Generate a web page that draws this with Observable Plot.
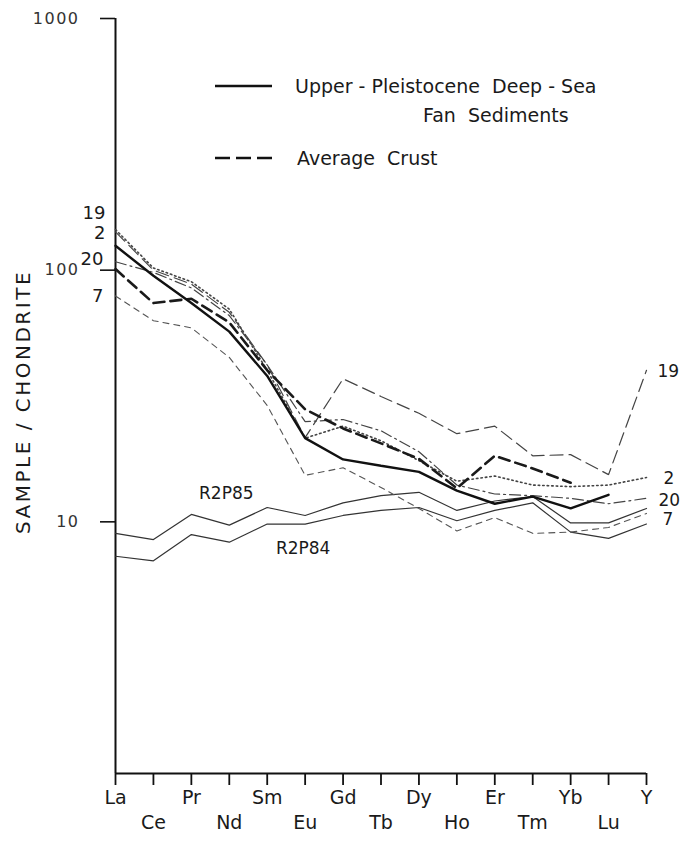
<!DOCTYPE html>
<html>
<head>
<meta charset="utf-8">
<script src="https://cdn.jsdelivr.net/npm/d3@7"></script>
<script src="https://cdn.jsdelivr.net/npm/@observablehq/plot@0.6"></script>
<style>
  html, body { margin: 0; padding: 0; background: #fff; }
  #wrap { position: relative; width: 685px; height: 843px; font-family: "DejaVu Sans", sans-serif; }
  #legend { position: absolute; left: 0; top: 0; pointer-events: none; }
  g[aria-label="y-axis tick label"] text { letter-spacing: 1.5px; }
</style>
</head>
<body>
<div id="wrap"></div>
<script>
// ---- data (sample / chondrite) ----
const elements = ["La","Ce","Pr","Nd","Sm","Eu","Gd","Tb","Dy","Ho","Er","Tm","Yb","Lu","Y"];
const topRow = ["La","Pr","Sm","Gd","Dy","Er","Yb","Y"];
const yTicks = [10, 100, 1000];

const fanSediments = [125, 95, 74, 57, 38, 21.5, 17.7, 16.7, 15.8, 13.3, 11.8, 12.6, 11.3, 12.8, null];
const averageCrust = [101, 74, 77, 62, 40, 28, 23.5, 20.5, 17.8, 13.6, 18.3, 16.3, 14.3, null, null];
const sample19 = [142, 100, 88, 68, 42, 21.6, 37, 31.5, 27, 22.4, 24, 18.3, 18.5, 15.4, 40];
const sample2  = [145, 102, 90, 70, 40, 21.5, 24, 21, 17.5, 14.5, 15.2, 14, 13.8, 14, 15];
const sample20 = [108, 98, 85, 66, 42, 25, 25.5, 23, 19, 14, 12.9, 12.7, 12.4, 11.8, 12.4];
const sample7  = [79, 63, 59, 45, 29, 15.3, 16.4, 13.7, 11.3, 9.2, 10.4, 9.0, 9.1, 9.5, 10.8];
const r2p85 = [9.0, 8.5, 10.7, 9.7, 11.4, 10.6, 11.9, 12.7, 13.1, 11.1, 12.1, 12.6, 9.9, 9.9, 11.3];
const r2p84 = [7.3, 7.0, 8.9, 8.3, 9.8, 9.8, 10.6, 11.1, 11.4, 10.1, 11.1, 11.9, 9.1, 8.6, 9.8];

const series = [
  {name: "R2P85", values: r2p85, stroke: "#333", width: 1.2, dash: null},
  {name: "R2P84", values: r2p84, stroke: "#333", width: 1.2, dash: null},
  {name: "7",  values: sample7,  stroke: "#555", width: 1.1, dash: "6,5"},
  {name: "20", values: sample20, stroke: "#444", width: 1.2, dash: "11,4,2,4"},
  {name: "2",  values: sample2,  stroke: "#444", width: 1.6, dash: "1.5,3"},
  {name: "19", values: sample19, stroke: "#444", width: 1.2, dash: "13,6"},
  {name: "crust", values: averageCrust, stroke: "#1a1a1a", width: 2.6, dash: "11,6"},
  {name: "fan", values: fanSediments, stroke: "#111", width: 2.4, dash: null}
];

const rows = s => elements.map((el, i) => ({el, v: s.values[i]})).filter(d => d.v != null);

const leftLabels = [
  {t: "19", v: sample19[0], dx: -10, dy: -19},
  {t: "2",  v: sample2[0],  dx: -10, dy: 4},
  {t: "20", v: sample20[0], dx: -12, dy: -3},
  {t: "7",  v: sample7[0],  dx: -12, dy: 0}
];
const rightLabels = [
  {t: "19", v: sample19[14], dx: 11, dy: 1},
  {t: "2",  v: sample2[14],  dx: 17, dy: 1},
  {t: "20", v: sample20[14], dx: 12, dy: 2},
  {t: "7",  v: sample7[14],  dx: 16, dy: 6}
];

const font = "DejaVu Sans, sans-serif";
const first = elements[0], last = elements[elements.length - 1];

const plot = Plot.plot({
  width: 685,
  height: 843,
  marginLeft: 115,
  marginRight: 39,
  marginTop: 18,
  marginBottom: 70,
  style: {fontFamily: font, background: "#fff", color: "#222", overflow: "visible"},
  x: {type: "point", domain: elements, padding: 0, round: false},
  y: {type: "log", domain: [1, 1000]},
  marks: [
    Plot.axisY({ticks: yTicks, tickSize: 15, tickPadding: 21, tickFormat: d => String(d), fontSize: 16, stroke: "#111", strokeWidth: 1.6, label: null, fill: "#333"}),
    Plot.axisX({tickSize: 12, tickFormat: () => "", stroke: "#111", strokeWidth: 1.8, label: null}),
    Plot.ruleX([first], {x: d => d, y1: 1, y2: 1000, stroke: "#111", strokeWidth: 2}),
    Plot.ruleY([1], {y: d => d, x1: () => first, x2: () => last, stroke: "#111", strokeWidth: 2}),
    Plot.text(elements.filter(e => topRow.includes(e)), {x: d => d, frameAnchor: "bottom", dy: 30, fontSize: 19, fill: "#1a1a1a"}),
    Plot.text(elements.filter(e => !topRow.includes(e)), {x: d => d, frameAnchor: "bottom", dy: 55, fontSize: 19, fill: "#1a1a1a"}),
    ...series.map(s => Plot.line(rows(s), {x: "el", y: "v", stroke: s.stroke, strokeWidth: s.width, strokeDasharray: s.dash, strokeLinejoin: "miter"})),
    ...leftLabels.map(l => Plot.text([l], {x: () => first, y: "v", text: "t", dx: l.dx, dy: l.dy, textAnchor: "end", fontSize: 18, fill: "#1a1a1a"})),
    ...rightLabels.map(l => Plot.text([l], {x: () => last, y: "v", text: "t", dx: l.dx, dy: l.dy, textAnchor: "start", fontSize: 17, fill: "#1a1a1a"})),
    Plot.text([{t: "R2P85", v: r2p85[3]}], {x: () => "Nd", y: "v", text: "t", dx: -3, dy: -32, fontSize: 17, fill: "#1a1a1a", style: "letter-spacing:1.5px"}),
    Plot.text([{t: "R2P84", v: r2p84[5]}], {x: () => "Eu", y: "v", text: "t", dx: -2, dy: 25, fontSize: 17, fill: "#1a1a1a", style: "letter-spacing:1.5px"})
  ]
});

const wrap = document.getElementById("wrap");
wrap.appendChild(plot);

// legend + axis title overlay (decoration, not data)
const ns = "http://www.w3.org/2000/svg";
const lg = document.createElementNS(ns, "svg");
lg.setAttribute("id", "legend");
lg.setAttribute("width", 685);
lg.setAttribute("height", 843);
lg.innerHTML = `
  <line x1="215" x2="272" y1="86" y2="86" stroke="#111" stroke-width="2.4"/>
  <line x1="215" x2="272" y1="158" y2="158" stroke="#111" stroke-width="2.4" stroke-dasharray="15,6"/>
  <g font-family="${font}" font-size="19" fill="#1a1a1a" style="white-space:pre">
    <text x="295" y="93" xml:space="preserve">Upper - Pleistocene  Deep - Sea</text>
    <text x="423" y="122" xml:space="preserve">Fan  Sediments</text>
    <text x="297" y="165" xml:space="preserve">Average  Crust</text>
  </g>
  <text transform="translate(23,402) rotate(-90)" text-anchor="middle" dominant-baseline="central"
        font-family="${font}" font-size="20" fill="#1a1a1a" style="letter-spacing:2.5px">SAMPLE / CHONDRITE</text>`;
wrap.appendChild(lg);
</script>
</body>
</html>
